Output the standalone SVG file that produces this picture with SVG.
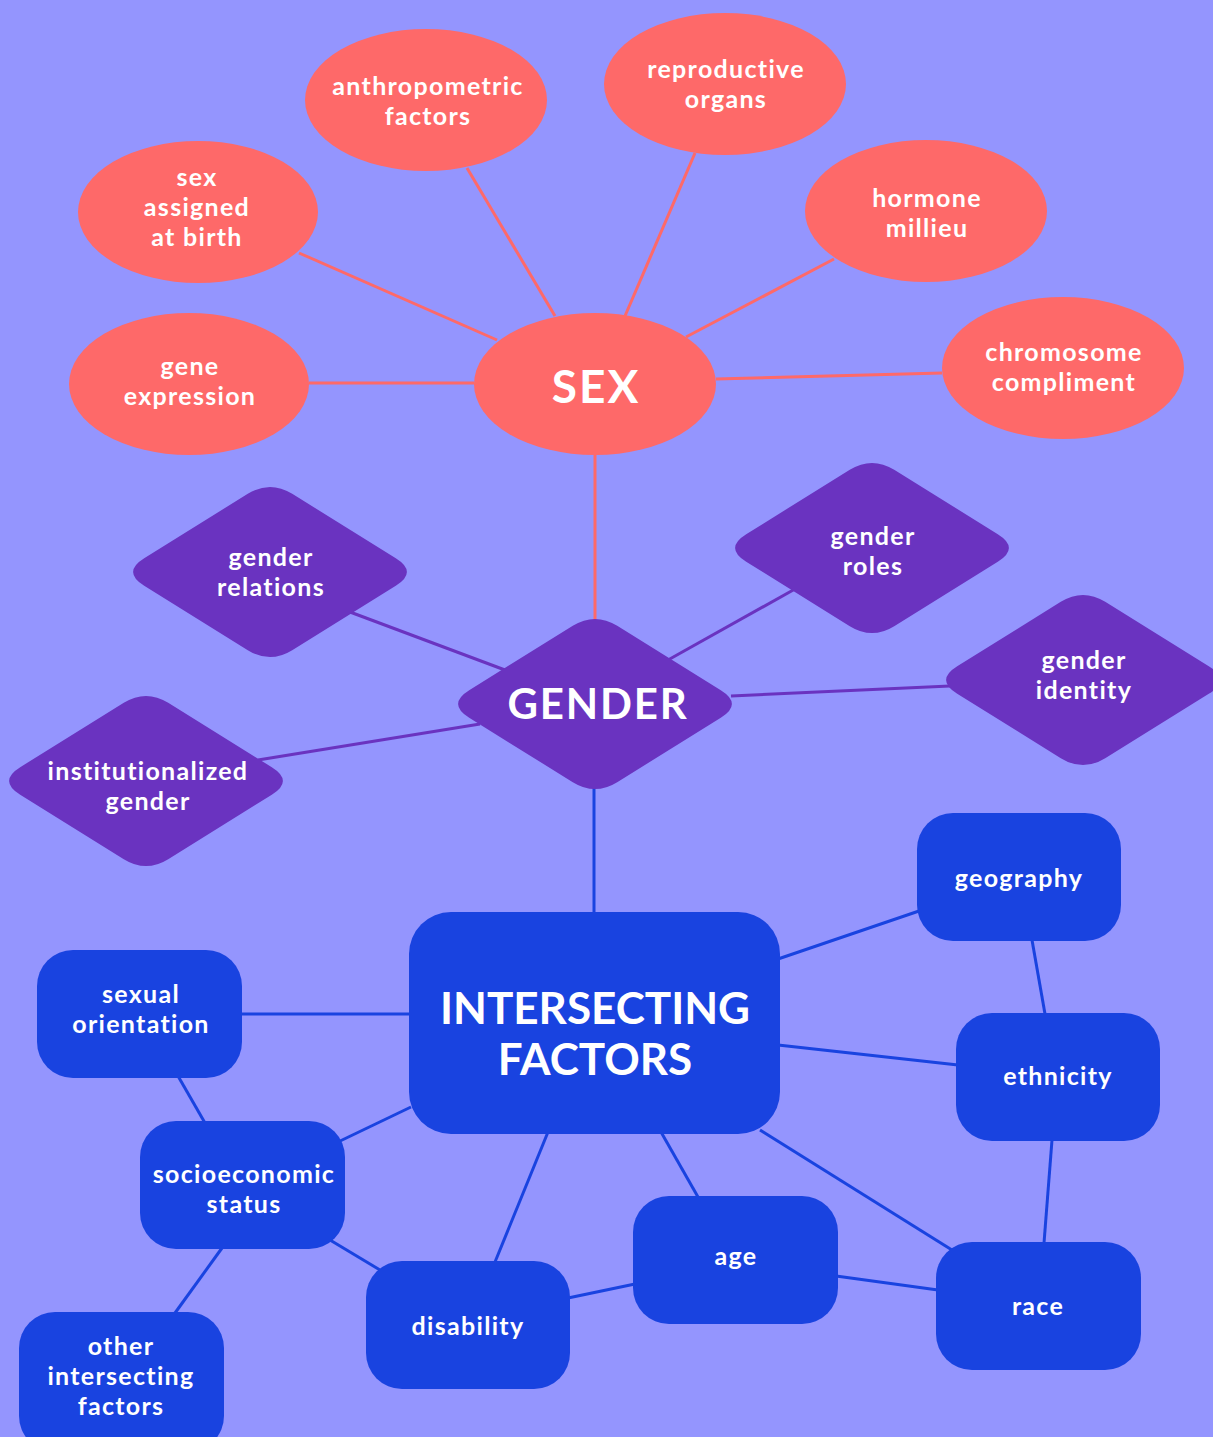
<svg xmlns="http://www.w3.org/2000/svg" xmlns:xlink="http://www.w3.org/1999/xlink" width="1213" height="1437" viewBox="0 0 1213 1437">
<style>
.bg{fill:#9495FE}
.ell{fill:#FE6969}
.dia{fill:#6A33C0}
.box{fill:#1943E0}
.cs{stroke:#FE6969;stroke-width:3;fill:none}
.cg{stroke:#6A33C0;stroke-width:3;fill:none}
.cb{stroke:#1943E0;stroke-width:3;fill:none}
text{font-family:Lato,"Noto Sans",sans-serif;font-weight:700;fill:#fff;text-anchor:middle}
.s{font-size:25px;letter-spacing:1.3px}
.big{font-size:46px;letter-spacing:2px}
</style>
<defs>
<path id="dm" d="M -125.8,-13.8 L -22.2,-78.2 Q 0,-92 22.2,-78.2 L 125.8,-13.8 Q 148,0 125.8,13.8 L 22.2,78.2 Q 0,92 -22.2,78.2 L -125.8,13.8 Q -148,0 -125.8,-13.8 Z"/>
</defs>
<rect class="bg" x="0" y="0" width="1213" height="1437"/>
<g id="connectors">
<line class="cs" x1="309" y1="383" x2="474" y2="383"/>
<line class="cs" x1="299" y1="253" x2="497" y2="340"/>
<line class="cs" x1="467" y1="168" x2="555" y2="316"/>
<line class="cs" x1="695" y1="153" x2="625" y2="316"/>
<line class="cs" x1="834" y1="259" x2="686" y2="337"/>
<line class="cs" x1="716" y1="379" x2="942" y2="373"/>
<line class="cs" x1="595" y1="455" x2="595" y2="622"/>
<line class="cg" x1="350" y1="612" x2="505" y2="670"/>
<line class="cg" x1="795" y1="589" x2="668" y2="660"/>
<line class="cg" x1="731" y1="696" x2="950" y2="686"/>
<line class="cg" x1="258" y1="760" x2="480" y2="724"/>
<line class="cb" x1="594" y1="787" x2="594" y2="914"/>
<line class="cb" x1="778" y1="959" x2="919" y2="911"/>
<line class="cb" x1="1032" y1="940" x2="1045" y2="1014"/>
<line class="cb" x1="778" y1="1045" x2="958" y2="1065"/>
<line class="cb" x1="1052" y1="1140" x2="1044" y2="1243"/>
<line class="cb" x1="760" y1="1130" x2="952" y2="1250"/>
<line class="cb" x1="836" y1="1276" x2="938" y2="1290"/>
<line class="cb" x1="661" y1="1132" x2="698" y2="1197"/>
<line class="cb" x1="548" y1="1132" x2="495" y2="1262"/>
<line class="cb" x1="568" y1="1298" x2="635" y2="1284"/>
<line class="cb" x1="330" y1="1240" x2="380" y2="1270"/>
<line class="cb" x1="411" y1="1107" x2="338" y2="1142"/>
<line class="cb" x1="178" y1="1076" x2="205" y2="1123"/>
<line class="cb" x1="240" y1="1014" x2="411" y2="1014"/>
<line class="cb" x1="222" y1="1248" x2="175" y2="1313"/>
</g>
<g id="sex"><ellipse class="ell" cx="595" cy="384" rx="121" ry="71"/><text class="big" x="596" y="403">SEX</text></g>
<g id="gene-expression"><ellipse class="ell" cx="189" cy="384" rx="120" ry="71"/><text class="s" x="190" y="375">gene</text><text class="s" x="190" y="405">expression</text></g>
<g id="sex-assigned"><ellipse class="ell" cx="198" cy="212" rx="120" ry="71"/><text class="s" x="197" y="186">sex</text><text class="s" x="197" y="216">assigned</text><text class="s" x="197" y="246">at birth</text></g>
<g id="anthropometric"><ellipse class="ell" cx="426" cy="100" rx="121" ry="71"/><text class="s" x="428" y="95">anthropometric</text><text class="s" x="428" y="125">factors</text></g>
<g id="reproductive"><ellipse class="ell" cx="725" cy="84" rx="121" ry="71"/><text class="s" x="726" y="78">reproductive</text><text class="s" x="726" y="108">organs</text></g>
<g id="hormone"><ellipse class="ell" cx="926" cy="211" rx="121" ry="71"/><text class="s" x="927" y="207">hormone</text><text class="s" x="927" y="237">millieu</text></g>
<g id="chromosome"><ellipse class="ell" cx="1063" cy="368" rx="121" ry="71"/><text class="s" x="1064" y="361">chromosome</text><text class="s" x="1064" y="391">compliment</text></g>
<g id="gender"><use class="dia" xlink:href="#dm" href="#dm" transform="translate(595,704)"/><text x="598" y="719" style="font-size:42px;letter-spacing:1.8px">GENDER</text></g>
<g id="gender-relations"><use class="dia" xlink:href="#dm" href="#dm" transform="translate(270,572)"/><text class="s" x="271" y="566">gender</text><text class="s" x="271" y="596">relations</text></g>
<g id="gender-roles"><use class="dia" xlink:href="#dm" href="#dm" transform="translate(872,548)"/><text class="s" x="873" y="545">gender</text><text class="s" x="873" y="575">roles</text></g>
<g id="gender-identity"><use class="dia" xlink:href="#dm" href="#dm" transform="translate(1083,680)"/><text class="s" x="1084" y="669">gender</text><text class="s" x="1084" y="699">identity</text></g>
<g id="institutionalized-gender"><use class="dia" xlink:href="#dm" href="#dm" transform="translate(146,781)"/><text class="s" x="148" y="780">institutionalized</text><text class="s" x="148" y="810">gender</text></g>
<g id="intersecting-factors"><rect class="box" x="409" y="912" width="371" height="222" rx="42"/><text x="595" y="1024" style="font-size:44px">INTERSECTING</text><text x="595" y="1075" style="font-size:44px">FACTORS</text></g>
<g id="geography"><rect class="box" x="917" y="813" width="204" height="128" rx="36"/><text class="s" x="1019" y="887">geography</text></g>
<g id="ethnicity"><rect class="box" x="956" y="1013" width="204" height="128" rx="36"/><text class="s" x="1058" y="1085">ethnicity</text></g>
<g id="race"><rect class="box" x="936" y="1242" width="205" height="128" rx="36"/><text class="s" x="1038" y="1315">race</text></g>
<g id="age"><rect class="box" x="633" y="1196" width="205" height="128" rx="36"/><text class="s" x="736" y="1265">age</text></g>
<g id="disability"><rect class="box" x="366" y="1261" width="204" height="128" rx="36"/><text class="s" x="468" y="1335">disability</text></g>
<g id="socioeconomic"><rect class="box" x="140" y="1121" width="205" height="128" rx="36"/><text class="s" x="244" y="1183">socioeconomic</text><text class="s" x="244" y="1213">status</text></g>
<g id="sexual-orientation"><rect class="box" x="37" y="950" width="205" height="128" rx="36"/><text class="s" x="141" y="1003">sexual</text><text class="s" x="141" y="1033">orientation</text></g>
<g id="other-factors"><rect class="box" x="19" y="1312" width="205" height="140" rx="36"/><text class="s" x="121" y="1355">other</text><text class="s" x="121" y="1385">intersecting</text><text class="s" x="121" y="1415">factors</text></g>
</svg>
